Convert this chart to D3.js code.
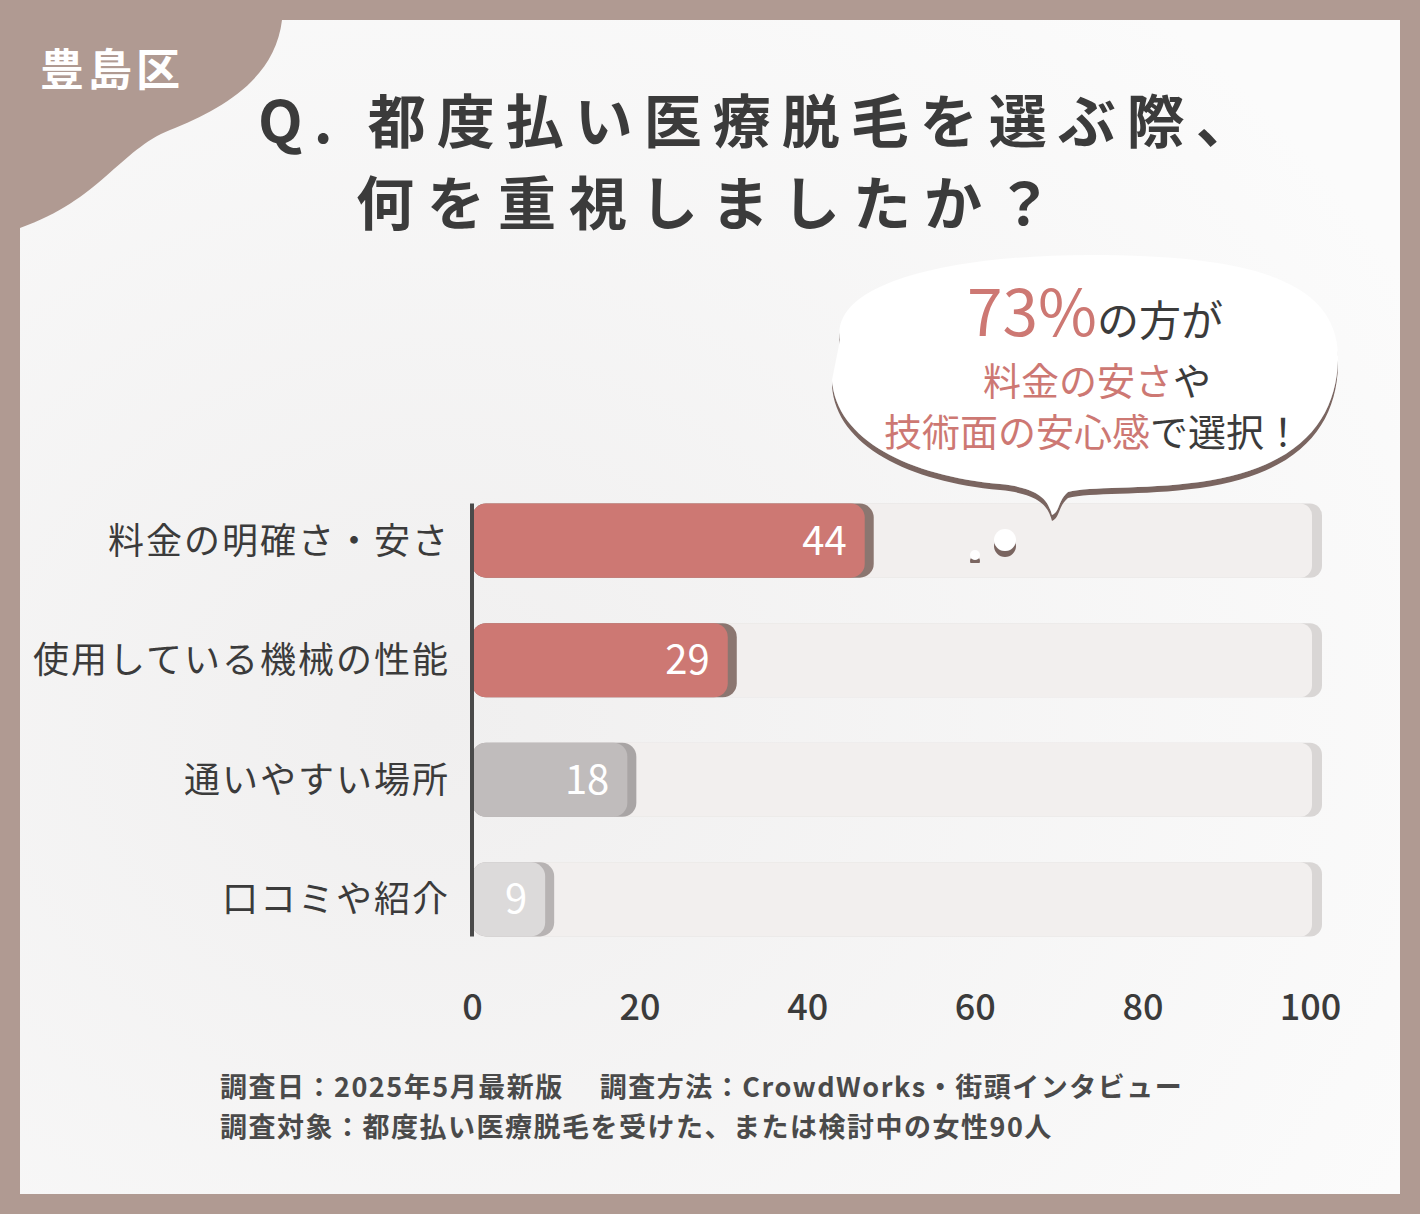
<!DOCTYPE html>
<html><head><meta charset="utf-8">
<script src="https://cdn.jsdelivr.net/npm/d3@7/dist/d3.min.js"></script>
<style>body{margin:0;background:#b09a92}svg{display:block}</style>
</head><body><svg id="c" width="1420" height="1214"></svg>
<script>
const categories = ["料金の明確さ・安さ","使用している機械の性能","通いやすい場所","口コミや紹介"];
const values = [44, 29, 18, 9];
const tickValues = [0, 20, 40, 60, 80, 100];
const barColors = ["#cd7873","#cd7873","#c0bcbc","#dcdada"];
const shadowColors = ["#8b7670","#8b7670","#a9a5a5","#b7b3b3"];

const svg = d3.select("#c");
const F = "'Noto Sans CJK JP','Noto Sans',sans-serif";
const defs = svg.append("defs");
const g1 = defs.append("radialGradient").attr("id","bg").attr("cx","0.3").attr("cy","0.6").attr("r","0.8");
g1.append("stop").attr("offset","0").attr("stop-color","#f0efef");
g1.append("stop").attr("offset","1").attr("stop-color","#fbfbfb");
const blur = defs.append("filter").attr("id","sh").attr("x","-10%").attr("y","-10%").attr("width","130%").attr("height","140%");
blur.append("feDropShadow").attr("dx",0).attr("dy",6).attr("stdDeviation",0).attr("flood-color","#7a6560");

svg.append("rect").attr("width",1420).attr("height",1214).attr("fill","#b09a92");
svg.append("rect").attr("x",20).attr("y",20).attr("width",1380).attr("height",1174).attr("fill","url(#bg)");
svg.append("path").attr("d","M20,20 L282,20 C275,80 220,110 170,130 C120,150 100,200 20,228 Z").attr("fill","#b09a92");
svg.append("text").attr("x",112).attr("y",86).attr("text-anchor","middle").attr("font-family",F).attr("font-weight",700)
  .attr("font-size",44).attr("fill","#fff").attr("letter-spacing",4).text("豊島区");

svg.append("text").attr("x",258).attr("y",143).attr("font-family",F).attr("font-weight",700).attr("font-size",58)
  .attr("fill","#3b3b3b").attr("letter-spacing",11).text("Q. 都度払い医療脱毛を選ぶ際、");
svg.append("text").attr("x",356).attr("y",225).attr("font-family",F).attr("font-weight",700).attr("font-size",58)
  .attr("fill","#3b3b3b").attr("letter-spacing",13).text("何を重視しましたか？");

const x = d3.scaleLinear().domain([0,100]).range([472,1310]);
const y = d3.scaleBand().domain(categories).range([500,940]).paddingInner(0.38).paddingOuter(0.03);
const h = y.bandwidth();
const ext = d => d*0.75;

categories.forEach(c=>{
  svg.append("rect").attr("x",x(0)+8).attr("y",y(c)).attr("width",1322-x(0)-8).attr("height",h).attr("rx",12).attr("fill","#d9d6d5");
  svg.append("rect").attr("x",x(0)).attr("y",y(c)).attr("width",1312-x(0)).attr("height",h).attr("rx",12).attr("fill","#f2efee");
});

const bars = svg.selectAll(".b").data(values).enter().append("g");
bars.append("rect").attr("x",x(0)).attr("y",(d,i)=>y(categories[i])).attr("width",d=>x(d)-x(0)+ext(d))
  .attr("height",h).attr("rx",14).attr("fill",(d,i)=>shadowColors[i]);
bars.append("rect").attr("x",x(0)).attr("y",(d,i)=>y(categories[i])).attr("width",d=>x(d)-x(0)+ext(d)-9)
  .attr("height",h).attr("rx",14).attr("fill",(d,i)=>barColors[i]);
bars.append("text").attr("x",d=>x(d)+ext(d)-27).attr("y",(d,i)=>y(categories[i])+h/2+14)
  .attr("text-anchor","end").attr("font-family",F).attr("font-size",40).attr("fill","#fff").text(d=>d);

svg.append("line").attr("x1",x(0)).attr("x2",x(0)).attr("y1",y(categories[0])).attr("y2",y(categories[3])+h)
  .attr("stroke","#4a4a4a").attr("stroke-width",4);

svg.selectAll(".cl").data(categories).enter().append("text").attr("x",450).attr("y",d=>y(d)+h/2+13)
  .attr("text-anchor","end").attr("font-family",F).attr("font-size",36).attr("fill","#3b3b3b").attr("letter-spacing",2).text(d=>d);

const ax = svg.append("g").attr("transform","translate(0,1005)").call(d3.axisBottom(x).tickValues(tickValues).tickSize(0));
ax.select(".domain").remove();
ax.selectAll("text").attr("font-family",F).attr("font-size",36).attr("font-weight",500).attr("fill","#3b3b3b").attr("dy","0.32em");

const bub = "M840,340 C830,280 960,255 1090,255 C1250,255 1340,280 1338,360 C1336,420 1300,468 1200,482 C1140,490 1090,486 1068,492 C1058,500 1060,512 1052,515 C1048,500 1040,488 1000,484 C910,476 836,440 832,380 Z";
svg.append("path").attr("d",bub).attr("fill","#fff").attr("filter","url(#sh)");
svg.append("circle").attr("cx",1005).attr("cy",540).attr("r",11).attr("fill","#fff").attr("filter","url(#sh)");
svg.append("circle").attr("cx",975).attr("cy",555).attr("r",5).attr("fill","#fff").attr("filter","url(#sh)");

const t1 = svg.append("text").attr("x",1095).attr("y",336).attr("text-anchor","middle").attr("font-family",F);
t1.append("tspan").attr("font-size",64).attr("fill","#cd7873").text("73%");
t1.append("tspan").attr("font-size",42).attr("fill","#3b3b3b").text("の方が");
const t2 = svg.append("text").attr("x",1097).attr("y",395).attr("text-anchor","middle").attr("font-family",F).attr("font-size",38);
t2.append("tspan").attr("fill","#cd7873").text("料金の安さ");
t2.append("tspan").attr("fill","#3b3b3b").text("や");
const t3 = svg.append("text").attr("x",1093).attr("y",446).attr("text-anchor","middle").attr("font-family",F).attr("font-size",38);
t3.append("tspan").attr("fill","#cd7873").text("技術面の安心感");
t3.append("tspan").attr("fill","#3b3b3b").text("で選択！");

svg.append("text").attr("x",220).attr("y",1097).attr("font-family",F).attr("font-weight",700).attr("font-size",27).attr("fill","#4a4a4a")
  .attr("letter-spacing",1.5).attr("xml:space","preserve").text("調査日：2025年5月最新版　 調査方法：CrowdWorks・街頭インタビュー");
svg.append("text").attr("x",220).attr("y",1137).attr("font-family",F).attr("font-weight",700).attr("font-size",27).attr("fill","#4a4a4a")
  .attr("letter-spacing",1.5).text("調査対象：都度払い医療脱毛を受けた、または検討中の女性90人");
</script></body></html>
